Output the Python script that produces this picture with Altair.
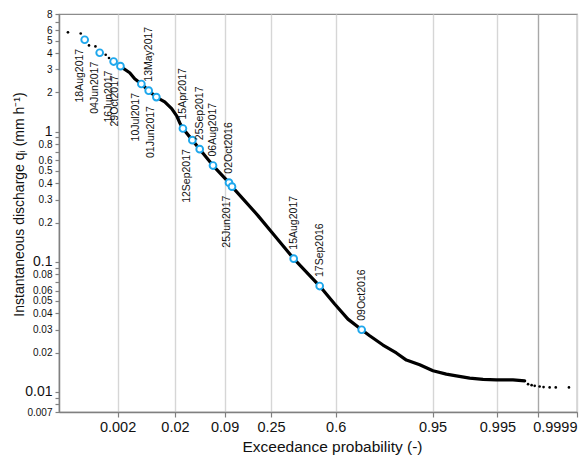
import json
from statistics import NormalDist

import altair as alt
import pandas as pd

FONT = "Liberation Sans"

# Dense part of the flow-duration curve: exceedance probability (-), discharge (mm h-1)
curve_p = [0.00231, 0.00343, 0.00424, 0.0056, 0.0075, 0.0101, 0.01387, 0.01782, 0.02122,
           0.0235, 0.0262, 0.0356, 0.0447, 0.0658, 0.1006, 0.1084, 0.1943, 0.2670, 0.3635,
           0.5096, 0.5945, 0.6664, 0.7347, 0.7710, 0.8246, 0.8697, 0.8978, 0.9279, 0.9506,
           0.9673, 0.9765, 0.9853, 0.9911, 0.99478, 0.99744, 0.99850]
curve_q = [3.15, 2.83, 2.54, 2.32, 2.06, 1.84, 1.69, 1.50, 1.32,
           1.17, 1.055, 0.859, 0.732, 0.548, 0.405, 0.377, 0.226, 0.1585, 0.1055,
           0.065, 0.0473, 0.0362, 0.030, 0.0270, 0.0229, 0.0199, 0.01754, 0.01613, 0.01451,
           0.01368, 0.01328, 0.01274, 0.01246, 0.01237, 0.01237, 0.01215]

# Isolated observations at both ends of the curve
tail_p = [0.000165, 0.000328, 0.000504, 0.000697, 0.00115, 0.001345,
          0.99872, 0.99892, 0.99907, 0.99927, 0.99940, 0.99956, 0.99968, 0.999843]
tail_q = [5.78, 5.67, 4.59, 4.51, 3.89, 3.67,
          0.01146, 0.01126, 0.01112, 0.01100, 0.01087, 0.01081, 0.01081, 0.01081]

# Sampled events
event_label = ["18Aug2017", "04Jun2017", "16Jun2017", "29Oct2017", "10Jul2017", "13May2017",
               "01Jun2017", "15Apr2017", "12Sep2017", "25Sep2017", "06Aug2017", "02Oct2016",
               "25Jun2017", "15Aug2017", "17Sep2016", "09Oct2016"]
event_p = [0.000404, 0.00086, 0.00167, 0.00228, 0.0056, 0.00753, 0.01014, 0.0262,
           0.0356, 0.0447, 0.0658, 0.1006, 0.1084, 0.3635, 0.5096, 0.7347]
event_q = [5.07, 4.03, 3.45, 3.18, 2.32, 2.06, 1.84, 1.055,
           0.859, 0.732, 0.548, 0.405, 0.377, 0.1055, 0.065, 0.030]
event_side = ["below", "below", "below", "below", "below", "above", "below", "above",
              "below", "above", "above", "above", "below", "above", "above", "above"]

# Axis ticks
x_tick_p = [0.002, 0.02, 0.09, 0.25, 0.6, 0.95, 0.995, 0.9992, 0.9999]
x_tick_text = ["0.002", "0.02", "0.09", "0.25", "0.6", "0.95", "0.995", "", "0.9999"]
x_domain_p = [0.0001, 0.9999]
y_ticks = [8, 7, 6, 5, 4, 3, 2, 1, 0.9, 0.8, 0.7, 0.6, 0.5, 0.4, 0.3, 0.2,
           0.1, 0.09, 0.08, 0.07, 0.06, 0.05, 0.04, 0.03, 0.02,
           0.01, 0.009, 0.008, 0.007]
y_unlabeled = [7, 0.9, 0.7, 0.09, 0.07, 0.009, 0.008]
y_major = [1, 0.1, 0.01]
y_domain = [0.007, 8]

nd = NormalDist()
x_tick_z = [nd.inv_cdf(p) for p in x_tick_p]
x_domain_z = [nd.inv_cdf(p) for p in x_domain_p]

curve_df = pd.DataFrame({"p": curve_p, "q": curve_q})
tail_df = pd.DataFrame({"p": tail_p, "q": tail_q})
event_df = pd.DataFrame({"p": event_p, "q": event_q, "label": event_label, "side": event_side})

x_label_expr = (f"{json.dumps(x_tick_text)}[indexof({json.dumps(x_tick_z)}, datum.value)]")
y_label_expr = f"indexof({json.dumps(y_unlabeled)}, datum.value) >= 0 ? '' : datum.label"
major_test = " || ".join(f"datum.value == {v}" for v in y_major)

X = alt.X(
    "z:Q",
    scale=alt.Scale(domain=x_domain_z, nice=False, zero=False),
    axis=alt.Axis(
        values=x_tick_z,
        labelExpr=x_label_expr,
        labelFlush=True,
        labelOverlap=False,
        labelFontSize=14.5,
        labelPadding=3,
        tickSize=5,
        grid=True,
        gridColor={"condition": {"test": "datum.value > 3.1 && datum.value < 3.2",
                                 "value": "#a8a8a8"}, "value": "#d6d6d6"},
        gridWidth=1.4,
        title="Exceedance probability (-)",
        titleFontSize=15.5,
        titleFontWeight="normal",
        titleX=273,
        titleY=34,
        titleBaseline="middle",
    ),
)
Y = alt.Y(
    "q:Q",
    scale=alt.Scale(type="log", domain=y_domain, nice=False),
    axis=alt.Axis(
        values=y_ticks,
        format="~g",
        labelExpr=y_label_expr,
        labelOverlap=False,
        labelFontSize={"condition": {"test": major_test, "value": 14}, "value": 10},
        labelPadding=3,
        tickSize=4,
        grid=False,
        title="Instantaneous discharge qᵢ (mm h⁻¹)",
        titleFontSize=14,
        titleFontWeight="normal",
        titleAngle=270,
        titleX=-40,
        titleY=190,
        titleAlign="center",
        titleBaseline="middle",
    ),
)

calc = {"z": "quantileNormal(datum.p)"}

line = alt.Chart(curve_df).transform_calculate(**calc).mark_line(
    color="black", strokeWidth=3.2, strokeJoin="round", strokeCap="round"
).encode(x=X, y=Y)

tails = alt.Chart(tail_df).transform_calculate(**calc).mark_circle(
    color="black", size=7, opacity=1
).encode(x=X, y=Y)

events = alt.Chart(event_df).transform_calculate(**calc).mark_circle(
    fill="white", stroke="#1ea7ec", strokeWidth=1.9, size=46, opacity=1
).encode(x=X, y=Y)

labels_above = alt.Chart(event_df).transform_calculate(**calc).transform_filter(
    "datum.side == 'above'"
).mark_text(
    angle=270, align="left", baseline="middle", dx=9, dy=0,
    fontSize=10.5, font=FONT, color="#111111"
).encode(x=X, y=Y, text="label:N")

labels_below = alt.Chart(event_df).transform_calculate(**calc).transform_filter(
    "datum.side == 'below'"
).mark_text(
    angle=270, align="right", baseline="middle", dx=-9, dy=-5,
    fontSize=10.5, font=FONT, color="#111111"
).encode(x=X, y=Y, text="label:N")

chart = alt.layer(line, tails, events, labels_above, labels_below).properties(
    width=518,
    height=398,
    autosize=alt.AutoSizeParams(type="none"),
    padding={"left": 51, "top": 6, "right": 3, "bottom": 45},
).configure(font=FONT).configure_view(
    stroke="#8c8c8c", strokeWidth=1.2
).configure_axis(
    domainColor="#808080", domainWidth=1.5, tickColor="#808080", tickWidth=1.2,
    labelColor="#111111", titleColor="#111111", labelFont=FONT, titleFont=FONT,
)

chart.save("out.html", embed_options={"renderer": "svg", "actions": False})
